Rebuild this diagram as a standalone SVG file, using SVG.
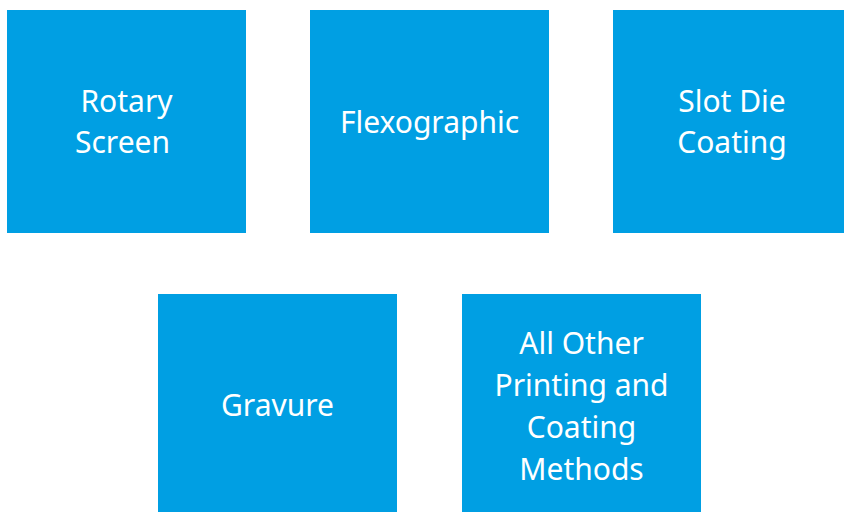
<svg xmlns="http://www.w3.org/2000/svg" width="844" height="512" viewBox="0 0 844 512">
<style>
.box{fill:#009FE3}
.lbl{fill:#ffffff;font-family:"Noto Sans","Open Sans",sans-serif;font-size:30px;text-anchor:middle}
</style>
<rect width="844" height="512" fill="#ffffff"/>
<g id="connectors"></g>
<g id="rotary-screen">
<rect class="box" x="7" y="10" width="239" height="223"/>
<text class="lbl" x="126.5" y="112">Rotary</text>
<text class="lbl" x="122.5" y="153">Screen</text>
</g>
<g id="flexographic">
<rect class="box" x="310" y="10" width="239" height="223"/>
<text class="lbl" x="429.5" y="133">Flexographic</text>
</g>
<g id="slot-die-coating">
<rect class="box" x="613" y="10" width="231" height="223"/>
<text class="lbl" x="732" y="112">Slot Die</text>
<text class="lbl" x="732" y="153">Coating</text>
</g>
<g id="gravure">
<rect class="box" x="158" y="294" width="239" height="223"/>
<text class="lbl" x="277.5" y="416">Gravure</text>
</g>
<g id="all-other">
<rect class="box" x="462" y="294" width="239" height="223"/>
<text class="lbl" x="581.5" y="354">All Other</text>
<text class="lbl" x="581.5" y="396">Printing and</text>
<text class="lbl" x="581.5" y="438">Coating</text>
<text class="lbl" x="581.5" y="480">Methods</text>
</g>
</svg>
